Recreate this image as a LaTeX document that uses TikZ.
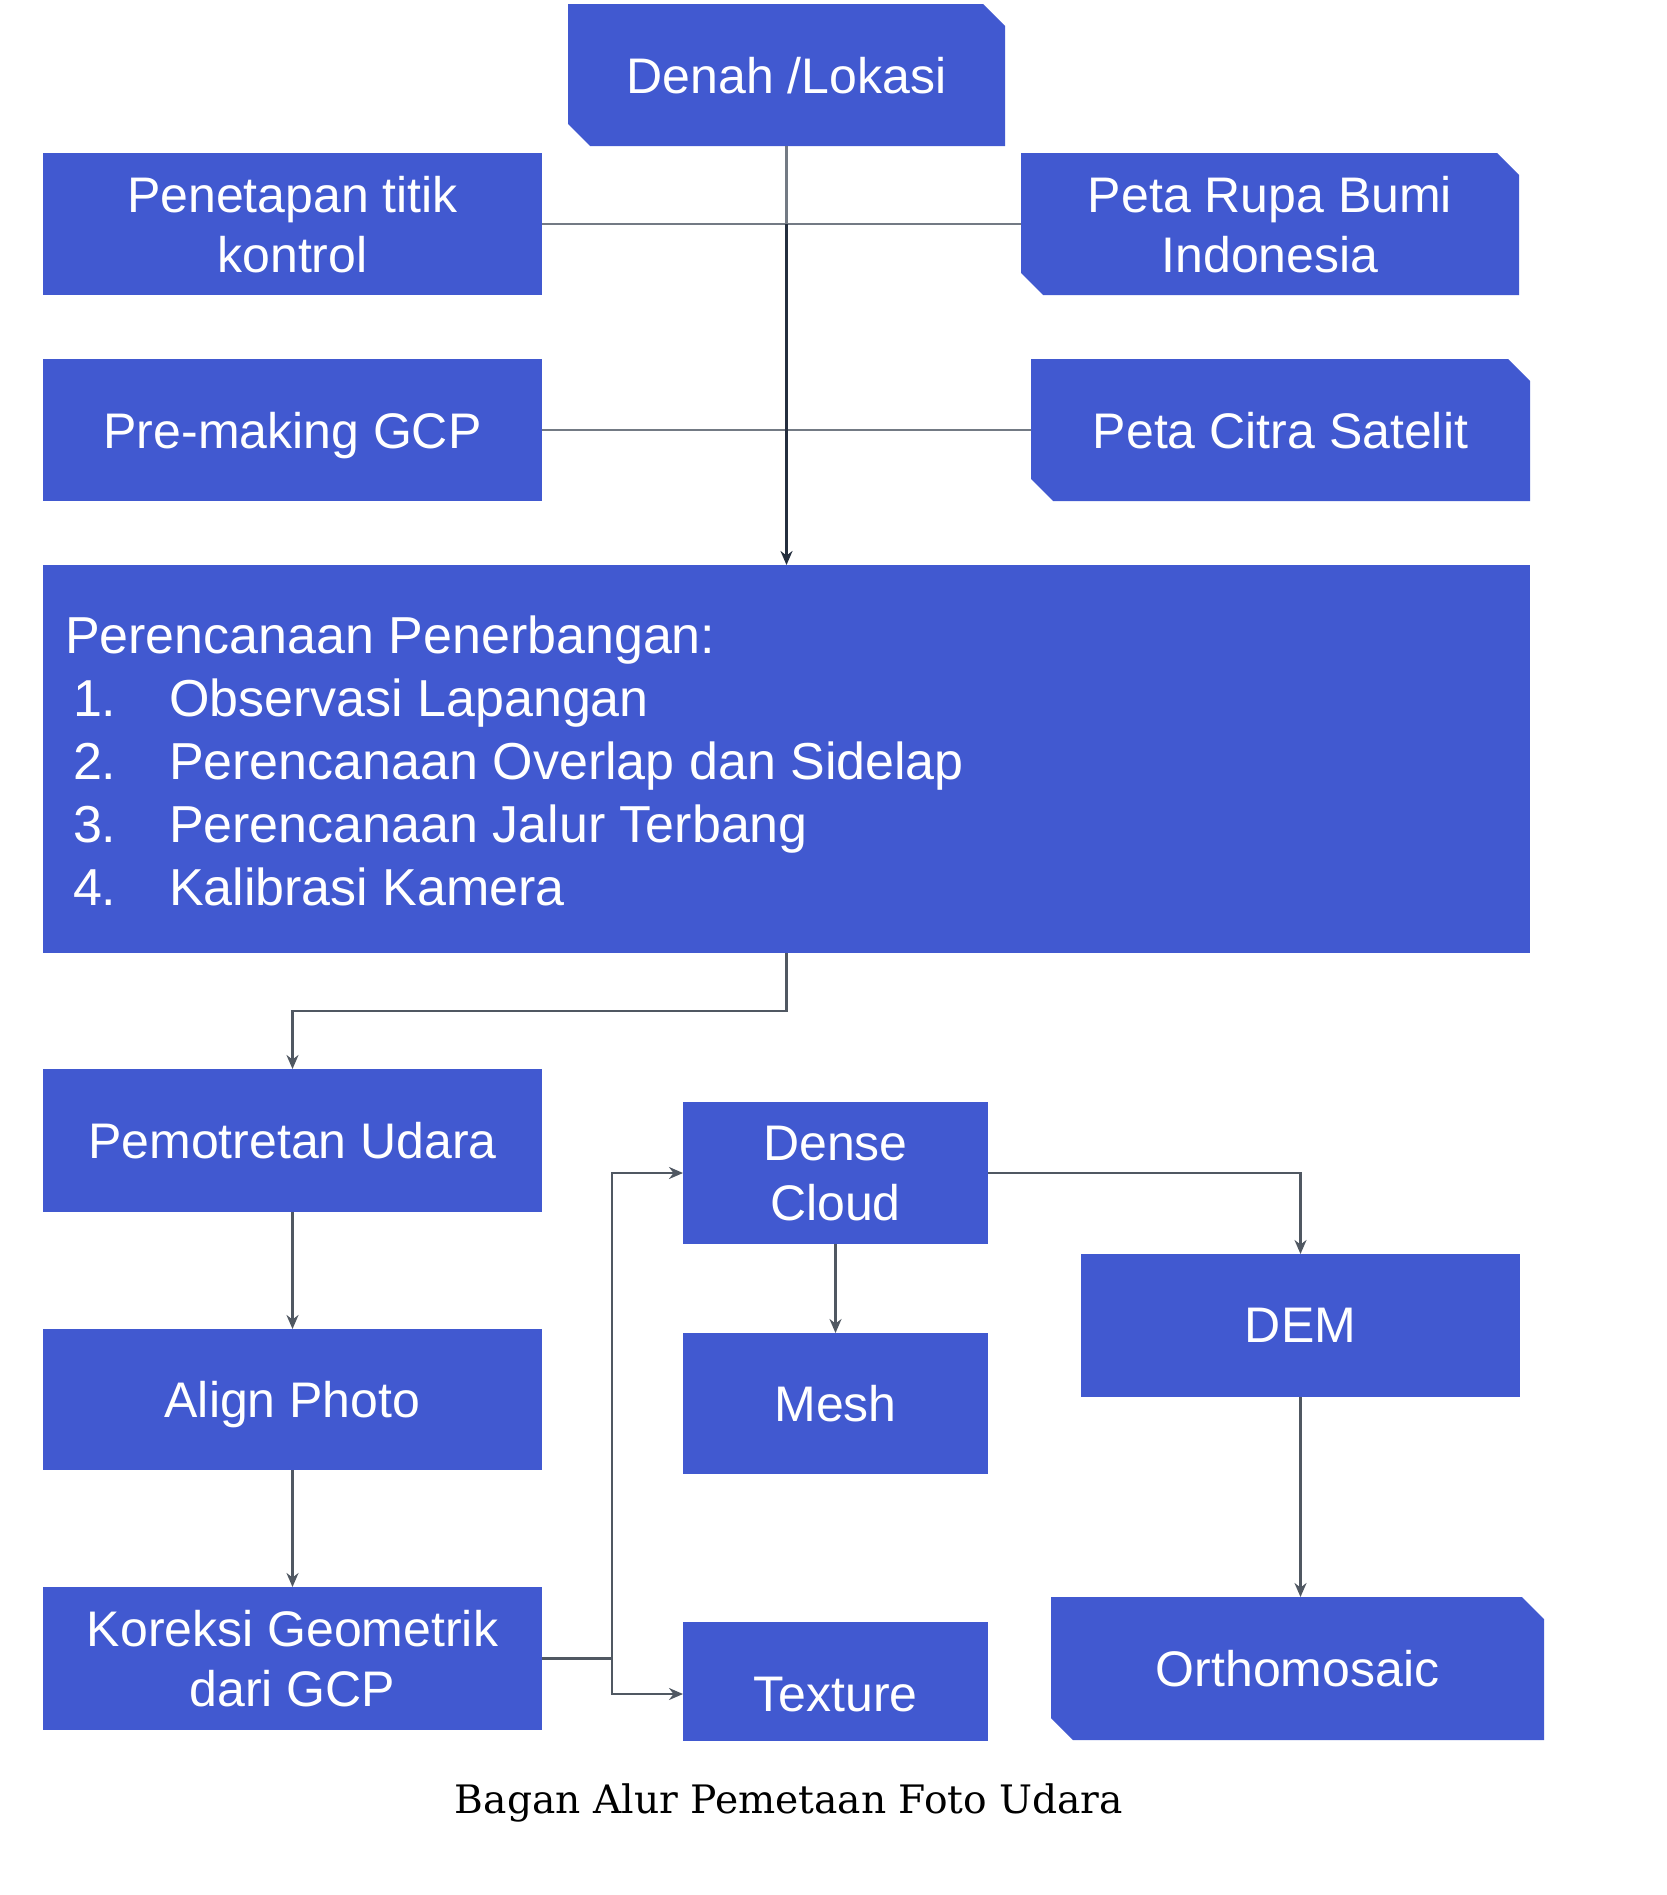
\documentclass[tikz,border=0pt]{standalone}
\usepackage{fontspec}
\setmainfont{Liberation Sans}
\newfontfamily\capfont{DejaVu Serif}
\usetikzlibrary{arrows.meta,positioning}
\definecolor{boxblue}{RGB}{65,89,208}
\definecolor{linegrey}{RGB}{80,88,98}
\definecolor{lightgrey}{RGB}{115,122,132}
\definecolor{darkline}{RGB}{36,46,62}
\begin{document}
\begin{tikzpicture}[x=0.5pt,y=-0.5pt,
  every node/.style={inner sep=0pt,outer sep=0pt},
  boxtext/.style={text=white,font=\fontsize{25}{30}\selectfont,align=center,text depth=0pt},
  listtext/.style={text=white,font=\fontsize{26}{31}\selectfont,anchor=base west},
  box/.style={boxtext,fill=boxblue},
  cutbox/.style={boxtext,path picture={
    \fill[boxblue] (path picture bounding box.north west)
      -- ([xshift=-11pt]path picture bounding box.north east)
      -- ([yshift=-11pt]path picture bounding box.north east)
      -- (path picture bounding box.south east)
      -- ([xshift=11pt]path picture bounding box.south west)
      -- ([yshift=11pt]path picture bounding box.south west) -- cycle;}},
  conn/.style={draw=linegrey,line width=1.4pt},
  arr/.style={conn,-{Stealth[length=7pt,width=6pt]}}
]
\useasboundingbox (0,0) rectangle (1666,1895);
% boxes
\node[cutbox,minimum width=218.5pt,minimum height=71pt] (denah) at (786.5,75) {Denah /Lokasi};
\node[box,minimum width=249.5pt,minimum height=71pt] (pen) at (292.5,224) {Penetapan titik\\kontrol};
\node[cutbox,minimum width=249pt,minimum height=71pt] (rupa) at (1270,224) {Peta Rupa Bumi\\Indonesia};
\node[box,minimum width=249.5pt,minimum height=71pt] (pre) at (292.5,430) {Pre-making GCP};
\node[cutbox,minimum width=249.5pt,minimum height=71pt] (citra) at (1280.5,430) {Peta Citra Satelit};
\node[box,minimum width=743.5pt,minimum height=194pt] (plan) at (786.5,759) {};
\node[listtext] (planh) at (65,653) {Perencanaan Penerbangan:};
\foreach \i/\t/\y in {1/Observasi Lapangan/716,2/Perencanaan Overlap dan Sidelap/779,3/Perencanaan Jalur Terbang/842,4/Kalibrasi Kamera/905}{
  \node[listtext] (num\i) at (73,\y) {\i.};
  \node[listtext] (item\i) at (169,\y) {\t};
}
\node[box,minimum width=249.5pt,minimum height=71.5pt] (pemo) at (292.5,1140.5) {Pemotretan Udara};
\node[box,minimum width=249.5pt,minimum height=70.5pt] (align) at (292.5,1399.5) {Align Photo};
\node[box,minimum width=249.5pt,minimum height=71.5pt] (kor) at (292.5,1658.5) {Koreksi Geometrik\\dari GCP};
\node[box,minimum width=152.5pt,minimum height=71pt] (dense) at (835.5,1173) {Dense\\Cloud};
\node[box,minimum width=152.5pt,minimum height=70.5pt] (mesh) at (835.5,1403.5) {Mesh};
\node[box,minimum width=152.5pt,minimum height=59.5pt] (tex) at (835.5,1681.5) {};
\node[boxtext] (texlbl) at (835.5,1694) {Texture};
\node[box,minimum width=219.5pt,minimum height=71.5pt] (dem) at (1300.5,1325.5) {DEM};
\node[cutbox,minimum width=246.5pt,minimum height=71.5pt] (ortho) at (1297.5,1668.5) {Orthomosaic};
\node[font=\capfont\fontsize{19.6}{23}\selectfont] (cap) at (789,1803) {Bagan Alur Pemetaan Foto Udara};
% connectors
\draw[draw=lightgrey,line width=1.3pt] (pen.east) -- (rupa.west);
\draw[draw=lightgrey,line width=1.3pt] (pre.east) -- (citra.west);
\coordinate (junc) at (denah.south |- pen.east);
\draw[draw=lightgrey,line width=1.3pt] (denah.south) -- (junc);
\draw[arr,draw=darkline,line width=1.6pt] (junc) -- (junc |- plan.north);
\coordinate (bend1) at (786.5,1011);
\draw[arr] (plan.south) -- (bend1) -| (pemo.north);
\draw[arr] (pemo.south) -- (align.north);
\draw[arr] (align.south) -- (kor.north);
\coordinate (split) at (612,1658.5);
\draw[conn] (kor.east) -- (split);
\draw[arr] (split) |- (dense.west);
\draw[arr] (split) |- (tex.west |- texlbl.west);
\draw[arr] (dense.east) -| (dem.north);
\draw[arr] (dense.south) -- (mesh.north);
\draw[arr] (dem.south) -- (dem.south |- ortho.north);
\end{tikzpicture}
\end{document}
